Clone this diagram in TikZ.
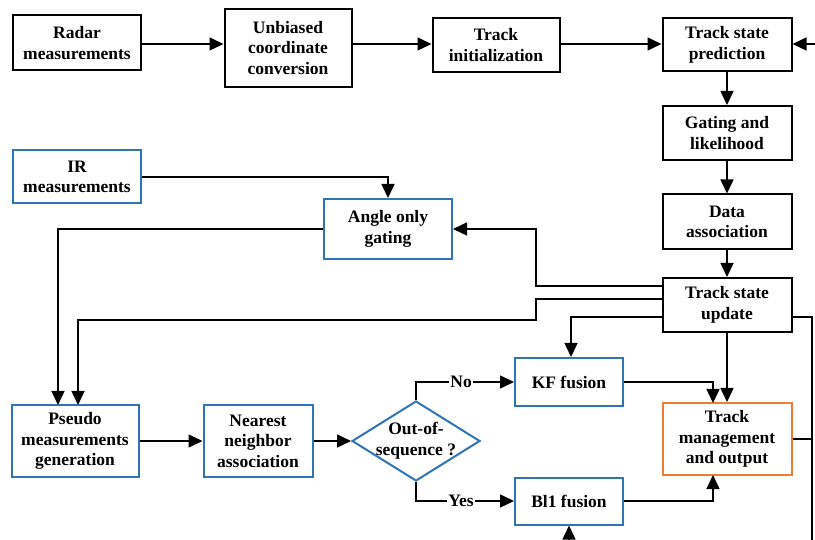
\documentclass[tikz,border=0pt]{standalone}
\usepackage{fontspec}
\setmainfont{Liberation Serif}
\usetikzlibrary{arrows.meta,shapes.geometric}
\definecolor{bblue}{RGB}{46,117,182}
\definecolor{borange}{RGB}{237,125,49}
\begin{document}
\begin{tikzpicture}[x=1pt,y=-1pt,
  box/.style={draw=black,line width=2pt,fill=white,align=center,inner sep=2pt,
    font=\fontsize{17.5}{20.5}\selectfont\bfseries},
  bbox/.style={box,draw=bblue},
  obox/.style={box,draw=borange},
  conn/.style={line width=1.5pt,-{Triangle[length=14pt,width=13pt]}},
  line/.style={line width=1.5pt},
  lbl/.style={fill=white,inner sep=1pt,font=\fontsize{17.5}{20.5}\selectfont\bfseries}]
\useasboundingbox (0,0) rectangle (815,540);
% black boxes
\node[box,minimum width=128pt,minimum height=55pt] (radar) at (77,43) {Radar\\measurements};
\node[box,minimum width=127pt,minimum height=78pt] (ucc) at (288,48) {Unbiased\\coordinate\\conversion};
\node[box,minimum width=127pt,minimum height=54pt] (ti) at (496,45) {Track\\initialization};
\node[box,minimum width=129pt,minimum height=53pt] (tsp) at (727,45) {Track state\\prediction};
\node[box,minimum width=129pt,minimum height=54pt] (gl) at (727,133) {Gating and\\likelihood};
\node[box,minimum width=129pt,minimum height=55pt] (da) at (727,222) {Data\\association};
\node[box,minimum width=129pt,minimum height=54pt] (tsu) at (727,305) {Track state\\update};
\node[obox,minimum width=129pt,minimum height=72pt] (tm) at (727,439) {Track\\management\\and output};
% blue boxes
\node[bbox,minimum width=128pt,minimum height=53pt] (ir) at (77,177) {IR\\measurements};
\node[bbox,minimum width=128pt,minimum height=60pt] (aog) at (388,229) {Angle only\\gating};
\node[bbox,minimum width=127pt,minimum height=72pt] (pmg) at (75,441) {Pseudo\\measurements\\generation};
\node[bbox,minimum width=109pt,minimum height=72pt] (nn) at (258,441) {Nearest\\neighbor\\association};
\node[bbox,minimum width=108pt,minimum height=48pt] (kf) at (569,382) {KF fusion};
\node[bbox,minimum width=108pt,minimum height=47pt] (bi) at (569,501) {Bl1 fusion};
\node[diamond,draw=bblue,line width=2pt,fill=white,minimum width=128pt,minimum height=80pt,inner sep=0pt] (oos) at (416,441) {};
\node[align=center,font=\fontsize{17.5}{21}\selectfont\bfseries] (oost) at (oos) {Out-of-\\sequence ?};
% edge coordinates
\coordinate (eTop) at (815,44);
\coordinate (eBot) at (812,540);
\coordinate (eBI) at (569,540);
% top chain
\draw[conn] (radar.east |- 0,44) -- (ucc.west |- 0,44);
\draw[conn] (ucc.east |- 0,44) -- (ti.west |- 0,44);
\draw[conn] (ti.east |- 0,44) -- (tsp.west |- 0,44);
\draw[conn] (eTop) -- (tsp.east |- eTop);
\draw[conn] (tsp) -- (gl);
\draw[conn] (gl) -- (da);
\draw[conn] (da) -- (tsu);
% IR to angle gating
\draw[conn] (ir.east) -- (388,177) -- (aog.north);
% TSU to angle only gating
\draw[conn] (tsu.west |- 0,286) -- (536,286) -- (536,229) -- (aog.east);
% angle gating to pseudo
\draw[conn] (aog.west) -- (58,229) -- (58,405);
% TSU to pseudo
\draw[conn] (tsu.west |- 0,299) -- (536,299) -- (536,320) -- (78,320) -- (78,405);
% TSU to KF
\draw[conn] (tsu.west |- 0,317) -- (571,317) -- (kf.north -| 571,0);
% TSU to TM
\draw[conn] (tsu.south) -- (tm.north);
% KF to TM
\draw[conn] (kf.east) -- (713,382) -- (713,403);
% BI to TM
\draw[conn] (bi.east) -- (713,501) -- (713,475);
% TSU right to bottom
\draw[line] (tsu.east |- 0,317) -- (812,317) -- (eBot);
\draw[line] (tm.east) -- (812,439);
% pipeline
\draw[conn] (pmg) -- (nn);
\draw[conn] (nn) -- (oos.west);
\draw[conn] (oos.north) -- (416,382) -- node[lbl,pos=0.46]{No} (kf.west);
\draw[conn] (oos.south) -- (416,501) -- node[lbl,pos=0.46]{Yes} (bi.west);
\draw[conn] (eBI) -- (bi.south);
\end{tikzpicture}
\end{document}
